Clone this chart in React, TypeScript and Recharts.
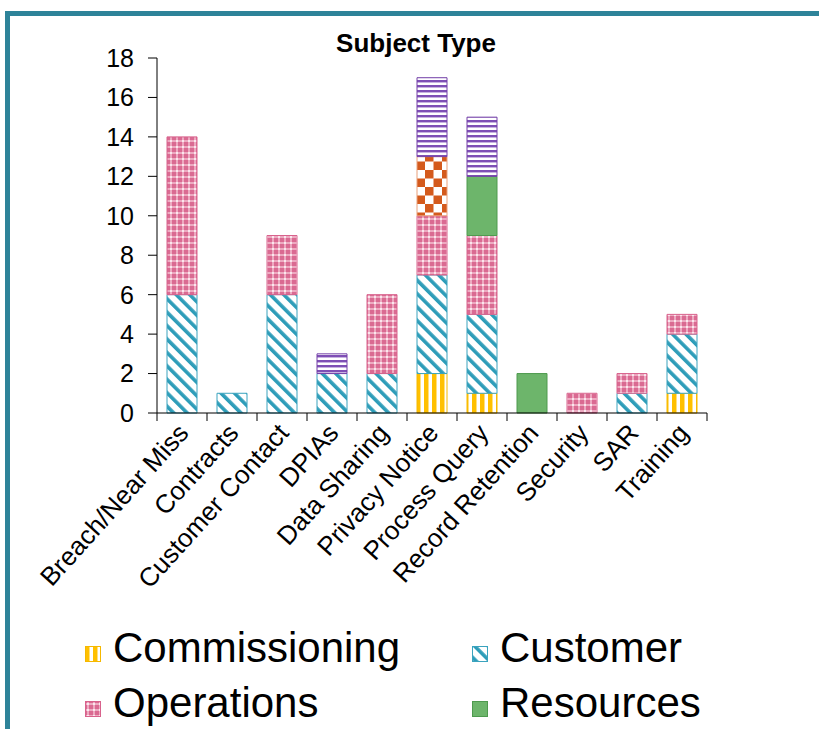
import React from "react";
import { BarChart, Bar, XAxis, YAxis, Legend } from "recharts";

const CATEGORIES = [
  "Breach/Near Miss",
  "Contracts",
  "Customer Contact",
  "DPIAs",
  "Data Sharing",
  "Privacy Notice",
  "Process Query",
  "Record Retention",
  "Security",
  "SAR",
  "Training",
];

const COMMISSIONING = [0, 0, 0, 0, 0, 2, 1, 0, 0, 0, 1];
const CUSTOMER = [6, 1, 6, 2, 2, 5, 4, 0, 0, 1, 3];
const OPERATIONS = [8, 0, 3, 0, 4, 3, 4, 0, 1, 1, 1];
const RESOURCES = [0, 0, 0, 0, 0, 0, 3, 2, 0, 0, 0];
const CHECKERED = [0, 0, 0, 0, 0, 3, 0, 0, 0, 0, 0];
const STRIPED = [0, 0, 0, 1, 0, 4, 3, 0, 0, 0, 0];

const Y_TICKS = [0, 2, 4, 6, 8, 10, 12, 14, 16, 18];

const SERIES = [
  { key: "Commissioning", values: COMMISSIONING, fill: "url(#pComm)", stroke: "#F5B800", legend: true },
  { key: "Customer", values: CUSTOMER, fill: "url(#pCust)", stroke: "#3AA3BE", legend: true },
  { key: "Operations", values: OPERATIONS, fill: "url(#pOps)", stroke: "#D8628C", legend: true },
  { key: "Resources", values: RESOURCES, fill: "#6DB56B", stroke: "#4E9A4E", legend: true },
  { key: "checkered", values: CHECKERED, fill: "url(#pChk)", stroke: "#E9A07A", legend: false },
  { key: "striped", values: STRIPED, fill: "url(#pStr)", stroke: "#7440A8", legend: false },
];

const data = CATEGORIES.map((name, i) => {
  const row: Record<string, string | number> = { name };
  SERIES.forEach((s) => {
    row[s.key] = s.values[i];
  });
  return row;
});

const FONT = "'Liberation Sans', Arial, sans-serif";
const BAND = 50;

function Patterns() {
  return (
    <svg width={0} height={0} style={{ position: "absolute" }}>
      <defs>
        <pattern id="pComm" patternUnits="userSpaceOnUse" width={8} height={8}>
          <rect width={8} height={8} fill="#fff" />
          <rect x={0} width={4} height={8} fill="#FFC000" />
          <rect x={4} width={1} height={8} fill="#FFE080" />
        </pattern>
        <pattern
          id="pCust"
          patternUnits="userSpaceOnUse"
          width={9.5}
          height={9.5}
          patternTransform="rotate(-45)"
        >
          <rect width={9.5} height={9.5} fill="#fff" />
          <rect x={0} width={3.6} height={9.5} fill="#2E9DB9" />
        </pattern>
        <pattern id="pOps" patternUnits="userSpaceOnUse" width={6} height={6}>
          <rect width={6} height={6} fill="#DA6A92" />
          <rect x={2} y={0} width={2} height={6} fill="#EDAAC1" />
          <rect x={0} y={2} width={6} height={2} fill="#EDAAC1" />
          <rect x={2} y={2} width={2} height={2} fill="#FBE6EE" />
        </pattern>
        <pattern id="pChk" patternUnits="userSpaceOnUse" width={17} height={17}>
          <rect width={17} height={17} fill="#fff" />
          <rect x={0} y={0} width={8.5} height={8.5} fill="#D45A1C" />
          <rect x={8.5} y={8.5} width={8.5} height={8.5} fill="#D45A1C" />
        </pattern>
        <pattern id="pStr" patternUnits="userSpaceOnUse" width={5} height={5}>
          <rect width={5} height={5} fill="#fff" />
          <rect y={0} width={5} height={2} fill="#7E4FB5" />
          <rect y={2} width={5} height={1} fill="#C7B2E0" />
        </pattern>
      </defs>
    </svg>
  );
}

function XTick(props: any) {
  const { x, y, payload, index } = props;
  const last = index === CATEGORIES.length - 1;
  const tx = x + 8;
  const ty = y + 21;
  return (
    <g>
      <line x1={x - BAND / 2} y1={y} x2={x - BAND / 2} y2={y + 8} stroke="#000" />
      {last && <line x1={x + BAND / 2} y1={y} x2={x + BAND / 2} y2={y + 8} stroke="#000" />}
      <text
        x={tx}
        y={ty}
        transform={`rotate(-48 ${tx} ${ty})`}
        textAnchor="end"
        fontSize={26}
        fontFamily={FONT}
        fill="#000"
      >
        {payload.value}
      </text>
    </g>
  );
}

function LegendContent() {
  return (
    <div
      style={{
        display: "grid",
        gridTemplateColumns: "387px 300px",
        fontFamily: FONT,
        fontSize: 42,
        lineHeight: "55px",
        color: "#000",
      }}
    >
      {SERIES.filter((s) => s.legend).map((s) => (
        <div key={s.key} style={{ whiteSpace: "nowrap" }}>
          <svg width={16} height={16} style={{ verticalAlign: "baseline", marginRight: 12 }}>
            <rect x={0.5} y={0.5} width={15} height={15} fill={s.fill} stroke={s.stroke} />
          </svg>
          {s.key}
        </div>
      ))}
    </div>
  );
}

export default function App() {
  return (
    <div
      style={{
        position: "absolute",
        left: 0,
        top: 0,
        width: 819,
        height: 729,
        background: "#fff",
        overflow: "hidden",
      }}
    >
      <Patterns />
      <div
        style={{
          position: "absolute",
          left: 5,
          top: 11,
          width: 830,
          height: 740,
          borderLeft: "5px solid #2E8399",
          borderTop: "5px solid #2E8399",
        }}
      />
      <div
        style={{
          position: "absolute",
          left: 0,
          top: 28,
          width: 832,
          textAlign: "center",
          fontFamily: FONT,
          fontWeight: "bold",
          fontSize: 26,
        }}
      >
        Subject Type
      </div>
      <div style={{ position: "absolute", left: 0, top: 0 }}>
        <BarChart
          width={819}
          height={729}
          data={data}
          margin={{ top: 58, right: 112, left: 97, bottom: 116 }}
          barSize={30}
        >
          <XAxis
            dataKey="name"
            interval={0}
            height={200}
            tickSize={0}
            tickMargin={0}
            axisLine={{ stroke: "#000" }}
            tick={<XTick />}
          />
          <YAxis
            width={60}
            domain={[0, 18]}
            ticks={Y_TICKS}
            interval={0}
            tickSize={9}
            tickMargin={14}
            axisLine={{ stroke: "#000" }}
            tickLine={{ stroke: "#000" }}
            tick={{ fill: "#000", fontSize: 25, fontFamily: FONT }}
          />
          {SERIES.map((s) => (
            <Bar
              key={s.key}
              dataKey={s.key}
              stackId="a"
              fill={s.fill}
              stroke={s.stroke}
              strokeWidth={1}
              isAnimationActive={false}
            />
          ))}
          <Legend
            layout="vertical"
            verticalAlign="middle"
            align="center"
            content={<LegendContent />}
            wrapperStyle={{ position: "absolute", top: 620, left: 85, width: 720 }}
          />
        </BarChart>
      </div>
    </div>
  );
}
